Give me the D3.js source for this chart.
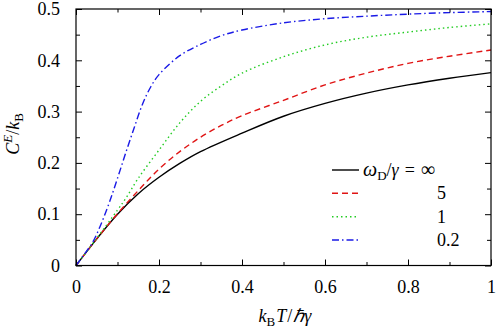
<!DOCTYPE html>
<html>
<head>
<meta charset="utf-8">
<script src="https://cdn.jsdelivr.net/npm/d3@7"></script>
<style>
  body { margin: 0; background: #fff; }
  svg text { font-family: "Liberation Serif", "Times New Roman", serif !important; fill: #000; }
</style>
</head>
<body>
<svg id="chart0"></svg>
<script>
// curves: x = kB T / hbar gamma, y = C^E / kB
var x_inf = [0, 0.05, 0.1, 0.15, 0.2, 0.25, 0.3, 0.4, 0.5, 0.6, 0.7, 0.8, 0.9, 1.0];
var y_inf = [0, 0.052, 0.100, 0.140, 0.172, 0.199, 0.222, 0.258, 0.291, 0.316, 0.336, 0.352, 0.365, 0.376];

var x_5 = [0, 0.05, 0.1, 0.15, 0.2, 0.25, 0.3, 0.35, 0.4, 0.5, 0.6, 0.7, 0.8, 0.9, 1.0];
var y_5 = [0, 0.052, 0.101, 0.146, 0.188, 0.222, 0.250, 0.273, 0.292, 0.322, 0.352, 0.375, 0.394, 0.408, 0.420];

var x_1 = [0, 0.05, 0.1, 0.12, 0.15, 0.2, 0.25, 0.3, 0.35, 0.4, 0.5, 0.6, 0.7, 0.8, 0.9, 1.0];
var y_1 = [0, 0.053, 0.108, 0.131, 0.170, 0.225, 0.278, 0.320, 0.350, 0.375, 0.407, 0.430, 0.445, 0.455, 0.464, 0.471];

var x_02 = [0, 0.02, 0.04, 0.06, 0.08, 0.1, 0.12, 0.14, 0.16, 0.18, 0.2, 0.25, 0.3, 0.35, 0.4, 0.5, 0.6, 0.7, 0.8, 0.9, 1.0];
var y_02 = [0, 0.022, 0.045, 0.080, 0.122, 0.170, 0.220, 0.268, 0.314, 0.348, 0.372, 0.409, 0.431, 0.448, 0.459, 0.473, 0.481, 0.486, 0.490, 0.493, 0.495];

var x_ticks = [0, 0.2, 0.4, 0.6, 0.8, 1];
var x_tick_labels = ['0', '0.2', '0.4', '0.6', '0.8', '1'];
var x_minor = [0.1, 0.3, 0.5, 0.7, 0.9];
var y_ticks = [0, 0.1, 0.2, 0.3, 0.4, 0.5];
var y_tick_labels = ['0', '0.1', '0.2', '0.3', '0.4', '0.5'];
var y_minor = [0.05, 0.15, 0.25, 0.35, 0.45];

var legend_labels = ['', '5', '1', '0.2'];

var width = 498;
var height = 329;
var margin = {'top': 9, 'bottom': 63.5, 'left': 76, 'right': 7};
var font = '"Liberation Serif", "Times New Roman", serif';

var series = [
	{'x': x_inf, 'y': y_inf, 'color': '#000000', 'dash': null},
	{'x': x_5, 'y': y_5, 'color': '#e01414', 'dash': '6,4'},
	{'x': x_1, 'y': y_1, 'color': '#22cc22', 'dash': '1.5,3'},
	{'x': x_02, 'y': y_02, 'color': '#1a1ae6', 'dash': '7,3,1.5,3'}
];

var x_conv = d3.scaleLinear()
	.domain([0, 1])
	.range([margin.left, width - margin.right]);

var y_conv = d3.scaleLinear()
	.domain([0, 0.5])
	.range([height - margin.bottom, margin.top]);

var svg = d3.select('#chart0')
	.attr('width', width)
	.attr('height', height)
	.attr('font-family', font);

// curves
var line = d3.line()
	.x(function(d) { return x_conv(d[0]); })
	.y(function(d) { return y_conv(d[1]); })
	.curve(d3.curveCatmullRom.alpha(0.5));

svg.selectAll('path.curve')
	.data(series).enter()
	.append('path')
	.attr('class', 'curve')
	.attr('d', function(s) {
		return line(s.x.map(function(v, i) { return [v, s.y[i]]; }));
	})
	.attr('fill', 'none')
	.attr('stroke', function(s) { return s.color; })
	.attr('stroke-width', 1.4)
	.attr('stroke-dasharray', function(s) { return s.dash; });

// axes, ticks pointing inward on all four sides
function style_axis(g) {
	g.attr('font-family', font).attr('font-size', 18);
	g.select('.domain').remove();
	g.selectAll('line').attr('stroke', '#000').attr('stroke-width', 1);
}

var y0 = height - margin.bottom;
var x1 = width - margin.right;

svg.append('g')
	.attr('transform', 'translate(0,' + y0 + ')')
	.call(d3.axisBottom(x_conv).tickValues(x_ticks).tickSize(-6).tickPadding(15)
		.tickFormat(function(d, i) { return x_tick_labels[i]; }))
	.call(style_axis);
svg.append('g')
	.attr('transform', 'translate(0,' + y0 + ')')
	.call(d3.axisBottom(x_conv).tickValues(x_minor).tickSize(-3.5).tickFormat(''))
	.call(style_axis);
svg.append('g')
	.attr('transform', 'translate(0,' + margin.top + ')')
	.call(d3.axisTop(x_conv).tickValues(x_ticks).tickSize(-6).tickFormat(''))
	.call(style_axis);
svg.append('g')
	.attr('transform', 'translate(0,' + margin.top + ')')
	.call(d3.axisTop(x_conv).tickValues(x_minor).tickSize(-3.5).tickFormat(''))
	.call(style_axis);

svg.append('g')
	.attr('transform', 'translate(' + margin.left + ',0)')
	.call(d3.axisLeft(y_conv).tickValues(y_ticks).tickSize(-6).tickPadding(16)
		.tickFormat(function(d, i) { return y_tick_labels[i]; }))
	.call(style_axis);
svg.append('g')
	.attr('transform', 'translate(' + margin.left + ',0)')
	.call(d3.axisLeft(y_conv).tickValues(y_minor).tickSize(-4).tickFormat(''))
	.call(style_axis);
svg.append('g')
	.attr('transform', 'translate(' + x1 + ',0)')
	.call(d3.axisRight(y_conv).tickValues(y_ticks).tickSize(-6).tickFormat(''))
	.call(style_axis);
svg.append('g')
	.attr('transform', 'translate(' + x1 + ',0)')
	.call(d3.axisRight(y_conv).tickValues(y_minor).tickSize(-4).tickFormat(''))
	.call(style_axis);

// frame
svg.append('rect')
	.attr('x', margin.left)
	.attr('y', margin.top)
	.attr('width', x1 - margin.left)
	.attr('height', y0 - margin.top)
	.attr('fill', 'none')
	.attr('stroke', '#000')
	.attr('stroke-width', 1.2);

// axis titles
var xt = svg.append('text')
	.attr('x', 285)
	.attr('y', 322)
	.attr('text-anchor', 'middle')
	.style('font-size', '18px');
xt.append('tspan').attr('font-style', 'italic').text('k');
xt.append('tspan').attr('dy', 4).style('font-size', '13px').text('B');
xt.append('tspan').attr('dy', -4).attr('dx', 1).attr('font-style', 'italic').text('T');
xt.append('tspan').attr('dx', 1).text('/');
xt.append('tspan').attr('dx', 1).attr('font-style', 'italic').text('ℏγ');

var yt = svg.append('text')
	.attr('transform', 'translate(19,134) rotate(-90)')
	.attr('text-anchor', 'middle')
	.style('font-size', '18px');
yt.append('tspan').attr('font-style', 'italic').text('C');
yt.append('tspan').attr('dy', -7).attr('font-style', 'italic').style('font-size', '13px').text('E');
yt.append('tspan').attr('dy', 7).text('/');
yt.append('tspan').attr('font-style', 'italic').text('k');
yt.append('tspan').attr('dy', 4).style('font-size', '13px').text('B');

// legend
var leg_y = [170, 193.3, 216.7, 240];
svg.selectAll('line.leg')
	.data(series).enter()
	.append('line')
	.attr('x1', 332).attr('x2', 359)
	.attr('y1', function(d, i) { return leg_y[i]; })
	.attr('y2', function(d, i) { return leg_y[i]; })
	.attr('stroke', function(s) { return s.color; })
	.attr('stroke-width', 1.4)
	.attr('stroke-dasharray', function(s) { return s.dash; });

svg.selectAll('text.leg')
	.data(legend_labels.slice(1)).enter()
	.append('text')
	.attr('x', 437)
	.attr('y', function(d, i) { return leg_y[i + 1] + 6; })
	.style('font-size', '18px')
	.text(function(d) { return d; });

var lt = svg.append('text')
	.attr('x', 363)
	.attr('y', leg_y[0] + 6)
	.style('font-size', '18px');
lt.append('tspan').attr('font-style', 'italic').style('font-size', '20px').text('ω');
lt.append('tspan').attr('dy', 4).style('font-size', '13px').text('D');
lt.append('tspan').attr('dy', -4).text('/');
lt.append('tspan').attr('font-style', 'italic').text('γ');
lt.append('tspan').attr('dx', 6).text('=');
lt.append('tspan').attr('dx', 6).style('font-size', '20px').text('∞');
</script>
</body>
</html>
